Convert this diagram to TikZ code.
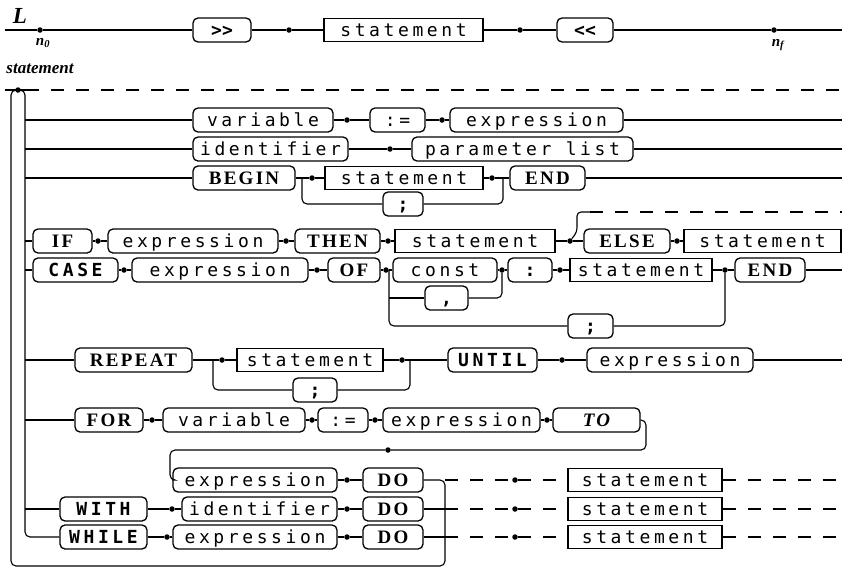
\documentclass[tikz,border=0pt]{standalone}
\usepackage{fontspec}
\setmainfont{Liberation Serif}
\newfontfamily\monof[LetterSpace=20]{DejaVu Sans Mono}
\newfontfamily\kwf[LetterSpace=12]{Liberation Serif}
\tikzset{
  lw/.style={line width=1.1pt},
  dsh/.style={line width=1.1pt, dash pattern=on 13pt off 12pt},
  rb/.style={draw, line width=1.3pt, rounded corners=5pt, minimum height=24pt, inner sep=0pt, text height=15pt, text depth=2pt},
  sb/.style={draw, line width=1.3pt, minimum height=23pt, inner sep=0pt, text height=15pt, text depth=2pt},
  mo/.style={font=\monof\fontsize{18}{18}\selectfont},
  mb/.style={font=\monof\bfseries\fontsize{18}{18}\selectfont},
  kw/.style={font=\kwf\bfseries\fontsize{19}{19}\selectfont},
  ki/.style={font=\kwf\bfseries\itshape\fontsize{19}{19}\selectfont},
  dotn/.style={circle, fill, inner sep=0pt, minimum size=5.5pt},
  lab/.style={font=\rmfamily\bfseries\itshape\fontsize{15}{15}\selectfont},
}
\newcommand\mkbox[7]{\node[#1,#2,minimum width={(#5-#4)*1pt}] (#3) at ({(#4+#5)/2},#6) {#7};}
\begin{document}
\begin{tikzpicture}[x=1pt,y=-1pt]
\useasboundingbox (0,0) rectangle (842,571);
% ---------- row L ----------
\node[font=\rmfamily\bfseries\itshape\fontsize{23}{23}\selectfont] (Lt) at (20,16) {L};
\coordinate (L0) at (5,30);
\node[dotn] (n0) at (40,30) {};
\node[lab] (n0l) at (43,43) {n\textsubscript{0}};
\mkbox{rb}{mb}{gg}{193}{251}{30}{>\kern0pt>}
\node[dotn] (d01) at (289,30) {};
\mkbox{sb}{mo}{s0}{324}{483}{30}{statement}
\node[dotn] (d02) at (520,30) {};
\mkbox{rb}{mb}{ll}{557}{613}{30}{<\kern0pt<}
\node[dotn] (nf) at (774,30) {};
\node[lab] (nfl) at (778,45) {n\textsubscript{f}};
\coordinate (L1) at (842,30);
\draw[lw] (L0) -- (n0) -- (gg.west);
\draw[lw] (gg.east) -- (d01) -- (s0.west);
\draw[lw] (s0.east) -- (d02) -- (ll.west);
\draw[lw] (ll.east) -- (nf) -- (L1);
% ---------- statement label and top line ----------
\node[font=\rmfamily\bfseries\itshape\fontsize{17}{17}\selectfont] (stl) at (40,69) {statement};
\coordinate (t0) at (5,90);
\node[dotn] (ds) at (18,90) {};
\coordinate (t1) at (26,90);
\coordinate (t2) at (842,90);
\draw[lw] (t0) -- (t1);
\draw[dsh] (t1) -- (t2);
% rail coordinates
\coordinate (r1) at (25,120);
\coordinate (r2) at (25,149);
\coordinate (r3) at (25,178);
\coordinate (r4) at (25,241);
\coordinate (r5) at (25,270);
\coordinate (r6) at (25,360);
\coordinate (r7) at (25,420);
\coordinate (r9) at (25,509);
% ---------- row 1: variable := expression ----------
\mkbox{rb}{mo}{va1}{193}{333}{120}{variable}
\node[dotn] (d11) at (347,120) {};
\mkbox{rb}{mo}{as1}{370}{425}{120}{:=}
\node[dotn] (d12) at (442,120) {};
\mkbox{rb}{mo}{ex1}{450}{623}{120}{expression}
\coordinate (e1) at (842,120);
\draw[lw] (r1) -- (va1.west);
\draw[lw] (va1.east) -- (d11) -- (as1.west);
\draw[lw] (as1.east) -- (d12) -- (ex1.west);
\draw[lw] (ex1.east) -- (e1);
% ---------- row 2: identifier parameter list ----------
\mkbox{rb}{mo}{id2}{193}{348}{149}{identifier}
\node[dotn] (d21) at (390,149) {};
\mkbox{rb}{mo}{pl2}{412}{633}{149}{parameter list}
\coordinate (e2) at (842,149);
\draw[lw] (r2) -- (id2.west);
\draw[lw] (id2.east) -- (d21) -- (pl2.west);
\draw[lw] (pl2.east) -- (e2);
% ---------- row 3: BEGIN statement ; END ----------
\mkbox{rb}{kw}{bg3}{193}{295}{178}{BEGIN}
\coordinate (j31) at (302,178);
\node[dotn] (d31) at (312,178) {};
\mkbox{sb}{mo}{st3}{325}{483}{178}{statement}
\node[dotn] (d32) at (492,178) {};
\coordinate (j32) at (503,178);
\mkbox{rb}{kw}{en3}{510}{585}{178}{END}
\coordinate (e3) at (842,178);
\mkbox{rb}{mb}{sm3}{383}{423}{204}{;}
\draw[lw] (r3) -- (bg3.west);
\draw[lw] (bg3.east) -- (d31) -- (st3.west);
\draw[lw] (st3.east) -- (d32) -- (en3.west);
\draw[lw] (en3.east) -- (e3);
\draw[lw, rounded corners=5pt] (j31) -- (302,204) -- (sm3.west);
\draw[lw, rounded corners=5pt] (sm3.east) -- (503,204) -- (j32);
% ---------- row 4: IF ----------
\mkbox{rb}{kw}{if4}{33}{92}{241}{IF}
\node[dotn] (d41) at (98,241) {};
\mkbox{rb}{mo}{ex4}{108}{278}{241}{expression}
\node[dotn] (d42) at (286,241) {};
\mkbox{rb}{kw}{th4}{295}{380}{241}{THEN}
\node[dotn] (d43) at (388,241) {};
\mkbox{sb}{mo}{st4}{395}{555}{241}{statement}
\node[dotn] (d44) at (570,241) {};
\mkbox{rb}{kw}{el4}{584}{670}{241}{ELSE}
\node[dotn] (d45) at (677,241) {};
\mkbox{sb}{mo}{st4b}{684}{841}{241}{statement}
\draw[lw] (r4) -- (if4.west);
\draw[lw] (if4.east) -- (d41) -- (ex4.west);
\draw[lw] (ex4.east) -- (d42) -- (th4.west);
\draw[lw] (th4.east) -- (d43) -- (st4.west);
\draw[lw] (st4.east) -- (d44) -- (el4.west);
\draw[lw] (el4.east) -- (d45) -- (st4b.west);
\coordinate (eb1) at (577,232);
\coordinate (eb2) at (577,212);
\coordinate (eb3) at (590,212);
\coordinate (eb4) at (842,212);
\draw[lw, rounded corners=4pt] (d44) -- (eb1) -- (eb2) -- (eb3);
\draw[dsh] (eb3) -- (eb4);
% ---------- row 5: CASE ----------
\mkbox{rb}{mb}{cs5}{33}{118}{270}{CASE}
\node[dotn] (d51) at (124,270) {};
\mkbox{rb}{mo}{ex5}{132}{308}{270}{expression}
\node[dotn] (d52) at (317,270) {};
\mkbox{rb}{kw}{of5}{328}{380}{270}{OF}
\node[dotn] (d53) at (386,270) {};
\coordinate (j51) at (389,270);
\mkbox{rb}{mo}{co5}{393}{497}{270}{const}
\node[dotn] (j52) at (502,270) {};
\mkbox{rb}{mb}{cl5}{508}{552}{270}{:}
\node[dotn] (d54) at (560,270) {};
\mkbox{sb}{mo}{st5}{570}{712}{270}{statement}
\node[dotn] (d55) at (725,270) {};
\mkbox{rb}{kw}{en5}{735}{805}{270}{END}
\coordinate (e5) at (842,270);
\mkbox{rb}{mb}{cm5}{425}{468}{298}{,}
\mkbox{rb}{mb}{sm5}{568}{613}{326}{;}
\coordinate (j53) at (389,298);
\draw[lw] (r5) -- (cs5.west);
\draw[lw] (cs5.east) -- (d51) -- (ex5.west);
\draw[lw] (ex5.east) -- (d52) -- (of5.west);
\draw[lw] (of5.east) -- (d53) -- (co5.west);
\draw[lw] (co5.east) -- (j52) -- (cl5.west);
\draw[lw] (cl5.east) -- (d54) -- (st5.west);
\draw[lw] (st5.east) -- (d55) -- (en5.west);
\draw[lw] (en5.east) -- (e5);
\draw[lw, rounded corners=5pt] (j51) -- (389,326) -- (sm5.west);
\draw[lw] (j53) -- (cm5.west);
\draw[lw, rounded corners=5pt] (cm5.east) -- (502,298) -- (j52);
\draw[lw, rounded corners=5pt] (sm5.east) -- (725,326) -- (d55);
% ---------- row 6: REPEAT ----------
\mkbox{rb}{kw}{rp6}{75}{192}{360}{REPEAT}
\coordinate (j61) at (213,360);
\node[dotn] (d61) at (222,360) {};
\mkbox{sb}{mo}{st6}{237}{383}{360}{statement}
\node[dotn] (d62) at (402,360) {};
\coordinate (j62) at (410,360);
\mkbox{rb}{mb}{un6}{448}{537}{360}{UNTIL}
\node[dotn] (d63) at (562,360) {};
\mkbox{rb}{mo}{ex6}{587}{753}{360}{expression}
\coordinate (e6) at (842,360);
\mkbox{rb}{mb}{sm6}{293}{337}{390}{;}
\draw[lw] (r6) -- (rp6.west);
\draw[lw] (rp6.east) -- (d61) -- (st6.west);
\draw[lw] (st6.east) -- (d62) -- (un6.west);
\draw[lw] (un6.east) -- (d63) -- (ex6.west);
\draw[lw] (ex6.east) -- (e6);
\draw[lw, rounded corners=5pt] (j61) -- (213,390) -- (sm6.west);
\draw[lw, rounded corners=5pt] (sm6.east) -- (410,390) -- (j62);
% ---------- row 7: FOR ----------
\mkbox{rb}{kw}{fo7}{75}{143}{420}{FOR}
\node[dotn] (d71) at (152,420) {};
\mkbox{rb}{mo}{va7}{163}{305}{420}{variable}
\node[dotn] (d72) at (312,420) {};
\mkbox{rb}{mo}{as7}{318}{368}{420}{:=}
\node[dotn] (d73) at (375,420) {};
\mkbox{rb}{mo}{ex7}{383}{540}{420}{expression}
\node[dotn] (d74) at (547,420) {};
\mkbox{rb}{ki}{to7}{553}{640}{420}{TO}
\node[dotn] (d75) at (388,450) {};
\draw[lw] (r7) -- (fo7.west);
\draw[lw] (fo7.east) -- (d71) -- (va7.west);
\draw[lw] (va7.east) -- (d72) -- (as7.west);
\draw[lw] (as7.east) -- (d73) -- (ex7.west);
\draw[lw] (ex7.east) -- (d74) -- (to7.west);
% ---------- row 8: expression DO ----------
\mkbox{rb}{mo}{ex8}{173}{337}{480}{expression}
\node[dotn] (d81) at (347,480) {};
\mkbox{rb}{kw}{do8}{363}{423}{480}{DO}
\coordinate (j8) at (445,480);
\node[dotn] (d82) at (515,480) {};
\mkbox{sb}{mo}{st8}{568}{722}{480}{statement}
\coordinate (e8) at (842,480);
\draw[lw, rounded corners=5pt] (to7.east) -- (646,420) -- (646,450) -- (d75) -- (170,450) -- (170,480) -- (ex8.west);
\draw[lw] (ex8.east) -- (d81) -- (do8.west);
\draw[dsh] (j8) -- (d82) -- (st8.west);
\draw[dsh] (st8.east) -- (e8);
% ---------- row 9: WITH ----------
\mkbox{rb}{mb}{wi9}{60}{147}{509}{WITH}
\node[dotn] (d91) at (172,509) {};
\mkbox{rb}{mo}{id9}{182}{337}{509}{identifier}
\node[dotn] (d92) at (347,509) {};
\mkbox{rb}{kw}{do9}{363}{423}{509}{DO}
\coordinate (j9) at (445,509);
\node[dotn] (d93) at (515,509) {};
\mkbox{sb}{mo}{st9}{568}{722}{509}{statement}
\coordinate (e9) at (842,509);
\draw[lw] (r9) -- (wi9.west);
\draw[lw] (wi9.east) -- (d91) -- (id9.west);
\draw[lw] (id9.east) -- (d92) -- (do9.west);
\draw[lw] (do9.east) -- (j9);
\draw[dsh] (j9) -- (d93) -- (st9.west);
\draw[dsh] (st9.east) -- (e9);
% ---------- row 10: WHILE ----------
\mkbox{rb}{mb}{wl10}{60}{147}{537}{WHILE}
\node[dotn] (d101) at (167,537) {};
\mkbox{rb}{mo}{ex10}{173}{337}{537}{expression}
\node[dotn] (d102) at (347,537) {};
\mkbox{rb}{kw}{do10}{363}{423}{537}{DO}
\coordinate (j10) at (445,537);
\node[dotn] (d103) at (515,537) {};
\mkbox{sb}{mo}{st10}{568}{722}{537}{statement}
\coordinate (e10) at (842,537);
\draw[lw] (wl10.east) -- (d101) -- (ex10.west);
\draw[lw] (ex10.east) -- (d102) -- (do10.west);
\draw[lw] (do10.east) -- (j10);
\draw[dsh] (j10) -- (d103) -- (st10.west);
\draw[dsh] (st10.east) -- (e10);
% ---------- rails ----------
\draw[lw, rounded corners=5pt] (ds) -- (25,90) -- (25,537) -- (wl10.west);
\draw[lw, rounded corners=5pt] (ds) -- (11,90) -- (11,566) -- (445,566) -- (j8) -- (do8.east);
\end{tikzpicture}
\end{document}
